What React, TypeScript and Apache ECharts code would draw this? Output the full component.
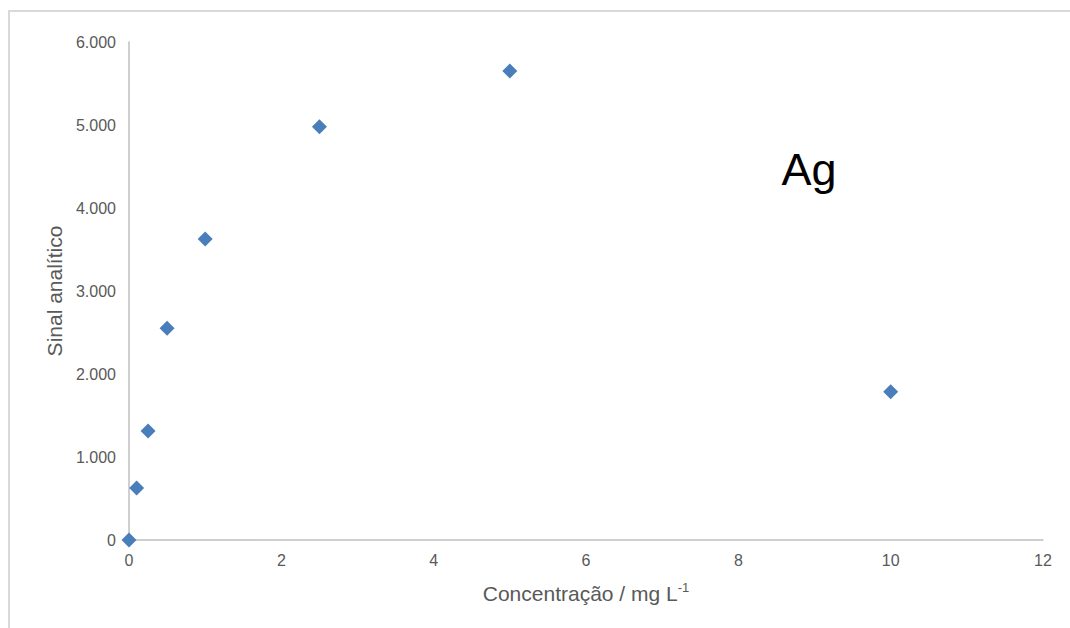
import React, { useEffect, useRef } from "react";
import * as echarts from "echarts";

// Concentration (mg L-1) and analytical signal for Ag
const concentration = [0, 0.1, 0.25, 0.5, 1, 2.5, 5, 10];
const signal = [0, 626, 1313, 2551, 3627, 4980, 5651, 1787];

const xTicks = [0, 2, 4, 6, 8, 10, 12];
const yTicks = [0, 1000, 2000, 3000, 4000, 5000, 6000];

const fmtThousands = (v: number) =>
  v === 0 ? "0" : v.toLocaleString("de-DE", { maximumFractionDigits: 0 });

export default function App() {
  const ref = useRef<HTMLDivElement>(null);

  useEffect(() => {
    if (!ref.current) return;
    const chart = echarts.init(ref.current, undefined, { renderer: "svg" });
    const font = "Liberation Sans, Arial, sans-serif";
    chart.setOption({
      animation: false,
      backgroundColor: "#ffffff",
      grid: { left: 129, right: 27, top: 42, bottom: 88, containLabel: false },
      graphic: [
        {
          type: "rect",
          shape: { x: 9, y: 11, width: 1080, height: 640 },
          style: { fill: "none", stroke: "#d9d9d9", lineWidth: 2 },
          silent: true,
        },
        {
          type: "text",
          x: 809,
          y: 169,
          style: {
            text: "Ag",
            font: `45px ${font}`,
            fill: "#000000",
            align: "center",
            verticalAlign: "middle",
          },
        },
      ],
      xAxis: {
        type: "value",
        min: xTicks[0],
        max: xTicks[xTicks.length - 1],
        interval: 2,
        axisLine: { show: true, onZero: false, lineStyle: { color: "#bfbfbf", width: 1.5 } },
        axisTick: { show: false },
        splitLine: { show: false },
        axisLabel: { color: "#595959", fontSize: 16, fontFamily: font, margin: 12 },
        name: "{t|Concentração / mg L}{s|-1}",
        nameLocation: "middle",
        nameGap: 41,
        nameTextStyle: {
          rich: {
            t: { fontSize: 21, color: "#595959", fontFamily: font },
            s: { fontSize: 13, color: "#595959", fontFamily: font, verticalAlign: "top", padding: [0, 0, 12, 0] },
          },
        },
      },
      yAxis: {
        type: "value",
        min: yTicks[0],
        max: yTicks[yTicks.length - 1],
        interval: 1000,
        axisLine: { show: true, lineStyle: { color: "#bfbfbf", width: 1.5 } },
        axisTick: { show: false },
        splitLine: { show: false },
        axisLabel: {
          color: "#595959",
          fontSize: 16,
          fontFamily: font,
          margin: 13,
          formatter: (v: number) => fmtThousands(v),
        },
        name: "Sinal analítico",
        nameLocation: "middle",
        nameGap: 61,
        nameTextStyle: { fontSize: 21, color: "#595959", fontFamily: font },
      },
      series: [
        {
          type: "scatter",
          data: concentration.map((c, i) => [c, signal[i]]),
          symbol: "diamond",
          symbolSize: [15, 15],
          itemStyle: { color: "#4a7ebb", opacity: 1 },
        },
      ],
    });
    return () => chart.dispose();
  }, []);

  return <div ref={ref} style={{ width: 1070, height: 628, position: "absolute", left: 0, top: 0 }} />;
}
